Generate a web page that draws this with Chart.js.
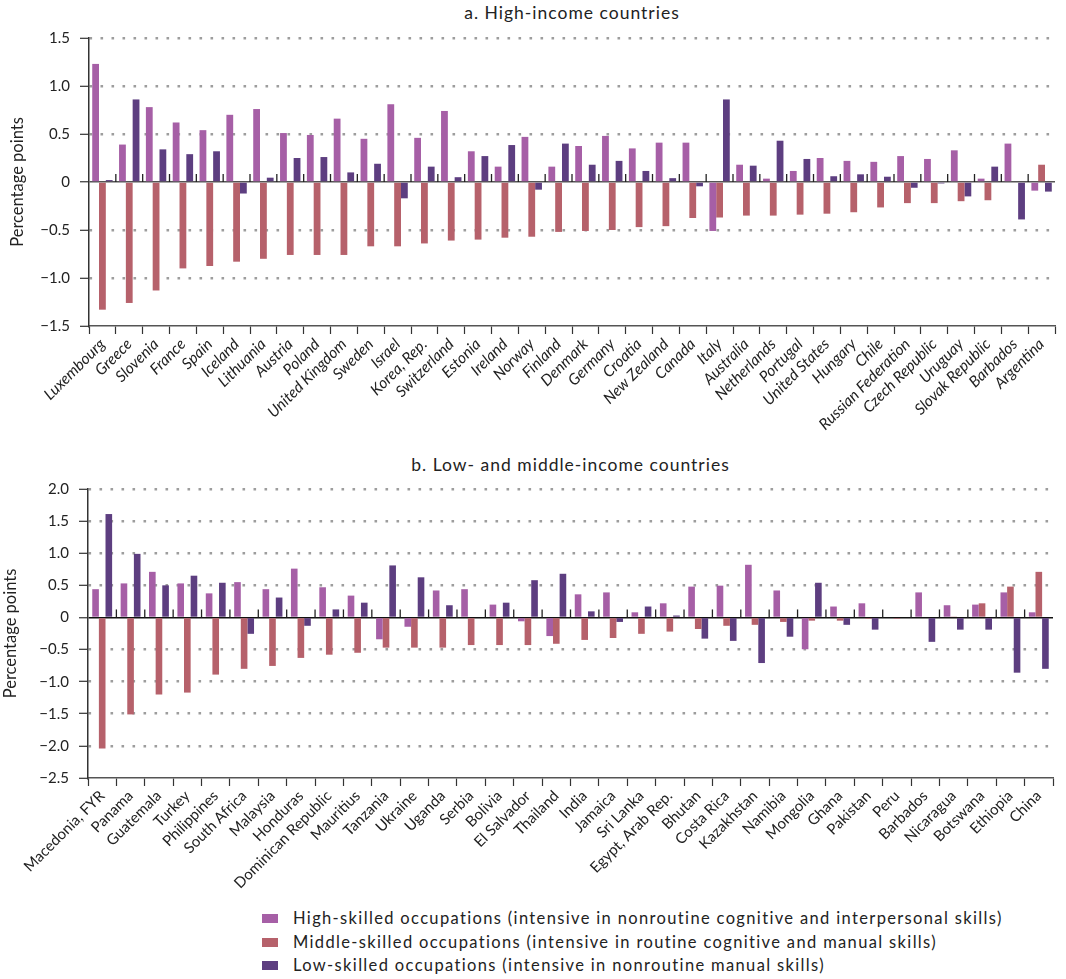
<!DOCTYPE html>
<html>
<head>
<meta charset="utf-8">
<script src="https://cdn.jsdelivr.net/npm/chart.js@4.4.1/dist/chart.umd.min.js"></script>
<style>
  body { margin: 0; background: #fff; font-family: Lato, "DejaVu Sans", sans-serif; color: #222; }
  #page { position: relative; width: 1066px; height: 979px; overflow: hidden; }
  .titre { position: absolute; font-size: 17.5px; letter-spacing: 1px; text-align: center; color: #222; }
  #legende { position: absolute; left: 262px; top: 907px; font-size: 16.5px; letter-spacing: 1.35px; line-height: 23.5px; }
  .ligne { display: flex; align-items: center; }
  .carre { width: 16px; height: 9px; margin-right: 15px; }
</style>
</head>
<body>
<div id="page">
  <div class="titre" style="left:89px; width:966px; top:2px;">a. High-income countries</div>
  <div style="position:absolute; left:0; top:0; width:1066px; height:450px;"><canvas id="chartA"></canvas></div>
  <div class="titre" style="left:88px; width:965px; top:454px;">b. Low- and middle-income countries</div>
  <div style="position:absolute; left:0; top:445px; width:1066px; height:458px;"><canvas id="chartB"></canvas></div>
  <div id="legende"></div>
</div>
<script>
// Données : a. pays à revenu élevé
const paysA = ['Luxembourg', 'Greece', 'Slovenia', 'France', 'Spain', 'Iceland', 'Lithuania', 'Austria',
    'Poland', 'United Kingdom', 'Sweden', 'Israel', 'Korea, Rep.', 'Switzerland', 'Estonia', 'Ireland',
    'Norway', 'Finland', 'Denmark', 'Germany', 'Croatia', 'New Zealand', 'Canada', 'Italy', 'Australia',
    'Netherlands', 'Portugal', 'United States', 'Hungary', 'Chile', 'Russian Federation', 'Czech Republic',
    'Uruguay', 'Slovak Republic', 'Barbados', 'Argentina'];
const hautA = [1.23, 0.39, 0.78, 0.62, 0.54, 0.70, 0.76, 0.51, 0.49, 0.66, 0.45, 0.81, 0.46, 0.74, 0.32, 0.16,
    0.47, 0.16, 0.375, 0.48, 0.35, 0.41, 0.41, -0.51, 0.18, 0.035, 0.115, 0.25, 0.22, 0.21, 0.27, 0.24,
    0.33, 0.035, 0.40, -0.09];
const moyenA = [-1.33, -1.26, -1.13, -0.90, -0.875, -0.83, -0.80, -0.76, -0.76, -0.76, -0.67, -0.67, -0.64, -0.61, -0.60, -0.58,
    -0.57, -0.52, -0.51, -0.50, -0.47, -0.46, -0.375, -0.37, -0.35, -0.35, -0.34, -0.33, -0.315, -0.265, -0.22, -0.22,
    -0.20, -0.19, 0, 0.18];
const basA = [0.02, 0.86, 0.34, 0.29, 0.32, -0.12, 0.045, 0.25, 0.26, 0.10, 0.19, -0.17, 0.16, 0.05, 0.27, 0.385,
    -0.08, 0.40, 0.18, 0.22, 0.115, 0.04, -0.045, 0.86, 0.17, 0.43, 0.24, 0.06, 0.08, 0.055, -0.06, -0.015,
    -0.15, 0.16, -0.39, -0.10];
const bornesA = [-1.5, 1.5];

// Données : b. pays à revenu faible et intermédiaire
const paysB = ['Macedonia, FYR', 'Panama', 'Guatemala', 'Turkey', 'Philippines', 'South Africa', 'Malaysia',
    'Honduras', 'Dominican Republic', 'Mauritius', 'Tanzania', 'Ukraine', 'Uganda', 'Serbia', 'Bolivia',
    'El Salvador', 'Thailand', 'India', 'Jamaica', 'Sri Lanka', 'Egypt, Arab Rep.', 'Bhutan', 'Costa Rica',
    'Kazakhstan', 'Namibia', 'Mongolia', 'Ghana', 'Pakistan', 'Peru', 'Barbados', 'Nicaragua', 'Botswana',
    'Ethiopia', 'China'];
const hautB = [0.44, 0.53, 0.71, 0.53, 0.375, 0.55, 0.44, 0.76, 0.47, 0.34, -0.34, -0.145, 0.42, 0.44, 0.20,
    -0.06, -0.29, 0.36, 0.39, 0.08, 0.22, 0.48, 0.495, 0.82, 0.42, -0.495, 0.17, 0.22, 0, 0.39, 0.19, 0.20,
    0.39, 0.08];
const moyenB = [-2.04, -1.51, -1.20, -1.17, -0.89, -0.80, -0.755, -0.63, -0.58, -0.55, -0.47, -0.47, -0.47, -0.43, -0.43,
    -0.43, -0.41, -0.35, -0.32, -0.255, -0.22, -0.18, -0.13, -0.115, -0.07, -0.05, -0.05, -0.02, -0.02, 0, 0.015, 0.22,
    0.48, 0.71];
const basB = [1.61, 0.99, 0.50, 0.65, 0.54, -0.255, 0.31, -0.13, 0.125, 0.23, 0.81, 0.625, 0.19, 0, 0.23,
    0.58, 0.68, 0.095, -0.07, 0.17, 0.03, -0.33, -0.365, -0.71, -0.30, 0.54, -0.115, -0.19, 0, -0.38, -0.19, -0.19,
    -0.86, -0.80];
const bornesB = [-2.5, 2.0];

// Séries et couleurs
const series = [
    'High-skilled occupations (intensive in nonroutine cognitive and interpersonal skills)',
    'Middle-skilled occupations (intensive in routine cognitive and manual skills)',
    'Low-skilled occupations (intensive in nonroutine manual skills)'
];
const couleurs = ['#a65fa6', '#b6616b', '#5d3e80'];

// Plugin pour les petits traits verticaux sur la ligne zéro
const traitsZero = {
    id: 'traitsZero',
    afterDatasetsDraw(chart) {
        const x = chart.scales.x;
        const y = chart.scales.y;
        const y0 = y.getPixelForValue(0);
        const ctx = chart.ctx;
        ctx.save();
        ctx.strokeStyle = '#222';
        ctx.lineWidth = 1.3;
        for (let i = 1; i < x.ticks.length; i++) {
            const xb = (x.getPixelForValue(i - 1) + x.getPixelForValue(i)) / 2;
            ctx.beginPath();
            ctx.moveTo(xb, y0);
            ctx.lineTo(xb, y0 - 8);
            ctx.stroke();
        }
        ctx.restore();
    }
};

// Fonction pour créer un graphique
function creerGraphique(canvas, pays, donnees, bornes, opts) {
    const estZero = v => Math.abs(v) < 1e-9;
    return new Chart(canvas, {
        type: 'bar',
        data: {
            labels: pays,
            datasets: donnees.map((d, i) => ({
                label: series[i],
                data: d,
                backgroundColor: couleurs[i],
                borderWidth: 0,
                categoryPercentage: opts.catPct,
                barPercentage: 1.0
            }))
        },
        options: {
            responsive: true,
            maintainAspectRatio: false,
            animation: false,
            layout: { padding: { top: opts.haut, left: opts.gauche, right: opts.droite, bottom: 0 } },
            plugins: {
                legend: { display: false },
                title: { display: false },
                tooltip: { enabled: false }
            },
            scales: {
                x: {
                    grid: { offset: true, drawOnChartArea: false, drawTicks: true, tickLength: 8, tickColor: '#333', tickWidth: 1.2 },
                    border: { display: true, color: '#555', width: 1.5 },
                    ticks: {
                        autoSkip: false,
                        minRotation: 45,
                        maxRotation: 45,
                        padding: 1,
                        color: '#222',
                        font: { family: 'Lato', size: opts.taillePays, style: opts.italique ? 'italic' : 'normal' }
                    },
                    afterFit: s => { s.height = opts.hautAxeX; }
                },
                y: {
                    min: bornes[0],
                    max: bornes[1],
                    ticks: {
                        stepSize: 0.5,
                        padding: 10,
                        color: '#222',
                        font: { family: 'Lato', size: 15 },
                        callback: v => estZero(v) ? '0' : (v < 0 ? '\u2212' : '') + Math.abs(v).toFixed(1)
                    },
                    grid: {
                        color: c => {
                            const v = c.tick ? c.tick.value : 1;
                            if (estZero(v)) return opts.couleurZero;
                            if (Math.abs(v - bornes[0]) < 1e-9) return 'rgba(0,0,0,0)';
                            return '#9d9d9d';
                        },
                        lineWidth: c => (c.tick && estZero(c.tick.value)) ? 1.5 : 2.6,
                        drawTicks: true,
                        tickLength: 9,
                        tickColor: '#333',
                        tickWidth: 1.2
                    },
                    border: {
                        display: true,
                        color: '#333',
                        width: 1.5,
                        dash: c => (c.tick && !estZero(c.tick.value)) ? [2.6, 8.4] : []
                    },
                    title: {
                        display: true,
                        text: 'Percentage points',
                        color: '#222',
                        padding: 0,
                        font: { family: 'Lato', size: 16.5 }
                    },
                    afterFit: s => { s.width = opts.largeurAxeY; }
                }
            }
        },
        plugins: [traitsZero]
    });
}

// Fonction pour construire la légende
function creerLegende() {
    const conteneur = document.getElementById('legende');
    series.forEach((s, i) => {
        const ligne = document.createElement('div');
        ligne.className = 'ligne';
        const carre = document.createElement('span');
        carre.className = 'carre';
        carre.style.background = couleurs[i];
        const texte = document.createElement('span');
        texte.textContent = s;
        ligne.appendChild(carre);
        ligne.appendChild(texte);
        conteneur.appendChild(ligne);
    });
}

creerGraphique(document.getElementById('chartA'), paysA, [hautA, moyenA, basA], bornesA, {
    catPct: 0.76, haut: 38, gauche: 8, droite: 11, largeurAxeY: 81, hautAxeX: 124,
    taillePays: 15.5, italique: true, couleurZero: '#555'
});
creerGraphique(document.getElementById('chartB'), paysB, [hautB, moyenB, basB], bornesB, {
    catPct: 0.7, haut: 44, gauche: 1, droite: 13, largeurAxeY: 87, hautAxeX: 125,
    taillePays: 15, italique: false, couleurZero: '#111'
});
creerLegende();
</script>
</body>
</html>
